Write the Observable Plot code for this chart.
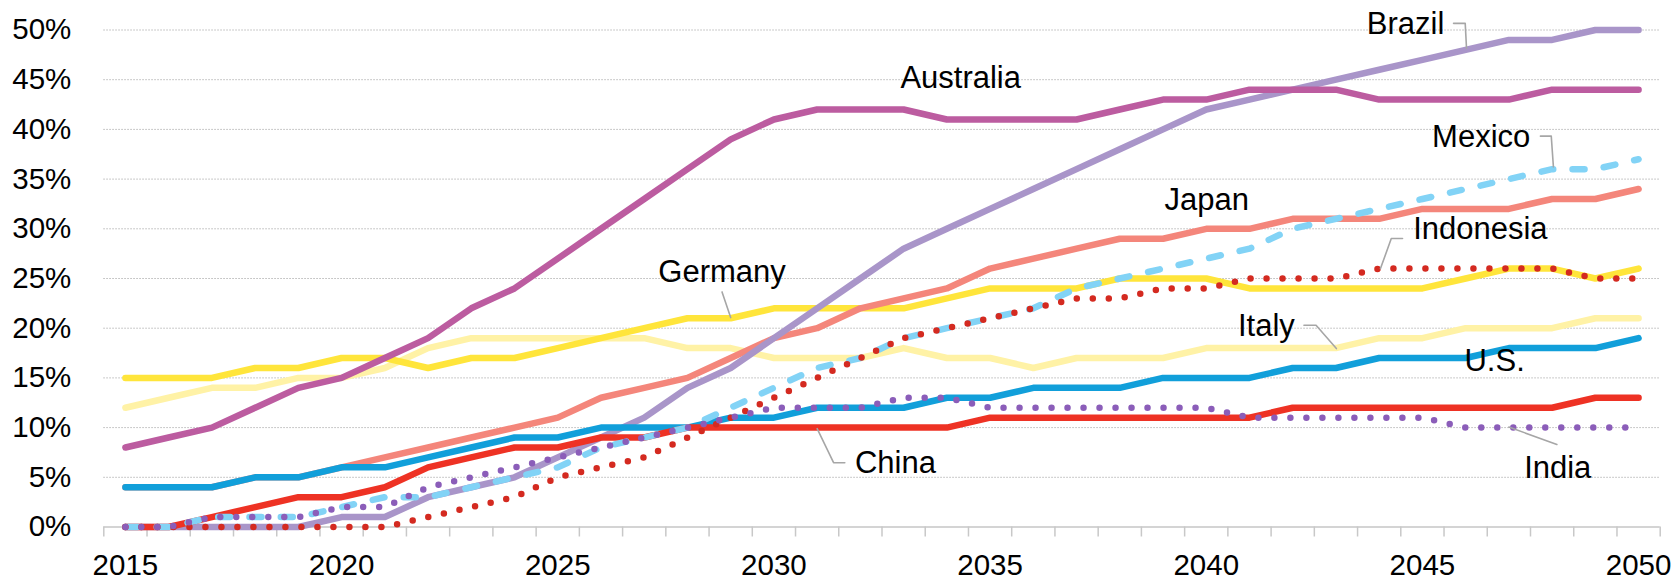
<!DOCTYPE html>
<html>
<head>
<meta charset="utf-8">
<script src="https://cdn.jsdelivr.net/npm/d3@7"></script>
<script src="https://cdn.jsdelivr.net/npm/@observablehq/plot@0.6"></script>
<style>
  html, body { margin: 0; padding: 0; background: #fff; }
  #chart svg { display: block; }
</style>
</head>
<body>
<div id="chart"></div>
<script>
// Years on the category axis and the labelled ticks
const years = d3.range(2015, 2051);
const xTickYears = [2015, 2020, 2025, 2030, 2035, 2040, 2045, 2050];
const yTicks = [0, 5, 10, 15, 20, 25, 30, 35, 40, 45, 50];

// Share of each country, in percent, 2015–2050
const australia = [8, 9, 10, 12, 14, 15, 17, 19, 22, 24, 27, 30, 33, 36, 39, 41, 42, 42, 42, 41, 41, 41, 41, 42, 43, 43, 44, 44, 44, 43, 43, 43, 43, 44, 44, 44];
const brazil = [0, 0, 0, 0, 0, 1, 1, 3, 4, 5, 7, 9, 11, 14, 16, 19, 22, 25, 28, 30, 32, 34, 36, 38, 40, 42, 43, 44, 45, 46, 47, 48, 49, 49, 50, 50];
const mexico = [0, 0, 1, 1, 1, 2, 3, 3, 4, 5, 6, 8, 9, 10, 12, 14, 16, 17, 19, 20, 21, 22, 24, 25, 26, 27, 28, 30, 31, 32, 33, 34, 35, 36, 36, 37];
const japan = [4, 4, 4, 5, 5, 6, 7, 8, 9, 10, 11, 13, 14, 15, 17, 19, 20, 22, 23, 24, 26, 27, 28, 29, 29, 30, 30, 31, 31, 31, 32, 32, 32, 33, 33, 34];
const indonesia = [0, 0, 0, 0, 0, 0, 0, 1, 2, 3, 5, 6, 7, 9, 11, 13, 15, 17, 19, 20, 21, 22, 23, 23, 24, 24, 25, 25, 25, 26, 26, 26, 26, 26, 25, 25];
const germany = [15, 15, 15, 16, 16, 17, 17, 16, 17, 17, 18, 19, 20, 21, 21, 22, 22, 22, 22, 23, 24, 24, 24, 25, 25, 25, 24, 24, 24, 24, 24, 25, 26, 26, 25, 26];
const italy = [12, 13, 14, 14, 15, 15, 16, 18, 19, 19, 19, 19, 19, 18, 18, 17, 17, 17, 18, 17, 17, 16, 17, 17, 17, 18, 18, 18, 18, 19, 19, 20, 20, 20, 21, 21];
const us = [4, 4, 4, 5, 5, 6, 6, 7, 8, 9, 9, 10, 10, 10, 11, 11, 12, 12, 12, 13, 13, 14, 14, 14, 15, 15, 15, 16, 16, 17, 17, 17, 18, 18, 18, 19];
const china = [0, 0, 1, 2, 3, 3, 4, 6, 7, 8, 8, 9, 9, 10, 10, 10, 10, 10, 10, 10, 11, 11, 11, 11, 11, 11, 11, 12, 12, 12, 12, 12, 12, 12, 13, 13];
const india = [0, 0, 1, 1, 1, 2, 2, 4, 5, 6, 7, 8, 9, 10, 11, 12, 12, 12, 13, 13, 12, 12, 12, 12, 12, 12, 11, 11, 11, 11, 11, 10, 10, 10, 10, 10];

// Drawing order, bottom to top, with colour and stroke pattern
const series = [
  {name: "Italy", values: italy, color: "#fff2a6", kind: "solid"},
  {name: "Germany", values: germany, color: "#ffe53b", kind: "solid"},
  {name: "Japan", values: japan, color: "#f4867b", kind: "solid"},
  {name: "Brazil", values: brazil, color: "#a995c9", kind: "solid"},
  {name: "Australia", values: australia, color: "#bc5ca0", kind: "solid"},
  {name: "U.S.", values: us, color: "#119fda", kind: "solid"},
  {name: "China", values: china, color: "#ee3224", kind: "solid"},
  {name: "Mexico", values: mexico, color: "#82d3f6", kind: "dash"},
  {name: "Indonesia", values: indonesia, color: "#d42a20", kind: "dot"},
  {name: "India", values: india, color: "#8b5db9", kind: "dot"}
];

const dashes = {solid: null, dash: "12,19.3", dot: "0,16"};

// Where each country name sits, and its leader line where it has one
const labelSpots = [
  {name: "Australia", year: 2034.32, value: 45.17},
  {name: "Brazil", year: 2044.61, value: 50.58},
  {name: "Mexico", year: 2046.36, value: 39.26},
  {name: "Japan", year: 2040.01, value: 32.93},
  {name: "Indonesia", year: 2046.34, value: 29.94},
  {name: "Germany", year: 2028.80, value: 25.66},
  {name: "Italy", year: 2041.39, value: 20.26},
  {name: "U.S.", year: 2046.67, value: 16.69},
  {name: "China", year: 2032.81, value: 6.45},
  {name: "India", year: 2048.13, value: 5.94}
];
const leaders = [
  [[2045.72, 50.67], [2045.99, 50.67], [2046.02, 48.16]],
  [[2047.73, 39.32], [2047.98, 39.32], [2048.03, 36.23]],
  [[2044.54, 29.02], [2044.28, 29.02], [2044.03, 26.0]],
  [[2042.26, 20.29], [2042.54, 20.29], [2043.01, 17.95]],
  [[2028.80, 23.65], [2029.0, 21.07]],
  [[2031.64, 6.47], [2031.38, 6.47], [2031.0, 9.89]],
  [[2048.11, 8.31], [2047.0, 10.05]]
];

// Category boundaries, where the small axis ticks fall
const boundaries = d3.range(2014.5, 2051, 1);

const lineMarks = series.map(s => Plot.line(
  years.map((y, i) => ({year: y, value: s.values[i]})),
  {
    x: "year", y: "value",
    stroke: s.color,
    strokeWidth: 6.5,
    strokeLinecap: "round",
    strokeLinejoin: "round",
    strokeDasharray: dashes[s.kind]
  }
));

const leaderMarks = leaders.map(pts => Plot.line(pts, {
  x: d => d[0], y: d => d[1], stroke: "#a6a6a6", strokeWidth: 1.6
}));

const chart = Plot.plot({
  width: 1677,
  height: 579,
  marginLeft: 103.3,
  marginRight: 17.3,
  marginTop: 29.5,
  marginBottom: 52.5,
  style: {fontFamily: "'Liberation Sans', Arial, sans-serif", background: "#fff", color: "#000", overflow: "visible"},
  x: {domain: [2014.5, 2050.5]},
  y: {domain: [0, 50]},
  marks: [
    Plot.ruleY(yTicks.filter(d => d > 0), {stroke: "#b8b8b8", strokeWidth: 1, strokeDasharray: "1.5,1.5"}),
    Plot.ruleY([0], {stroke: "#d4d4d4", strokeWidth: 2}),
    Plot.axisX({ticks: boundaries, tickSize: 10, tickFormat: () => "", label: null, stroke: "#c8c8c8", strokeWidth: 1.5}),
    Plot.axisX({ticks: xTickYears, tickSize: 0, tickPadding: 27, tickFormat: d => String(d), label: null, fontSize: 29.5}),
    Plot.axisY({ticks: yTicks, tickSize: 0, tickPadding: 32.5, tickFormat: d => `${d}%`, label: null, fontSize: 29.5}),
    ...lineMarks,
    ...leaderMarks,
    Plot.text(labelSpots, {x: "year", y: "value", text: "name", fontSize: 31, fill: "#000"})
  ]
});

document.getElementById("chart").append(chart);
</script>
</body>
</html>
